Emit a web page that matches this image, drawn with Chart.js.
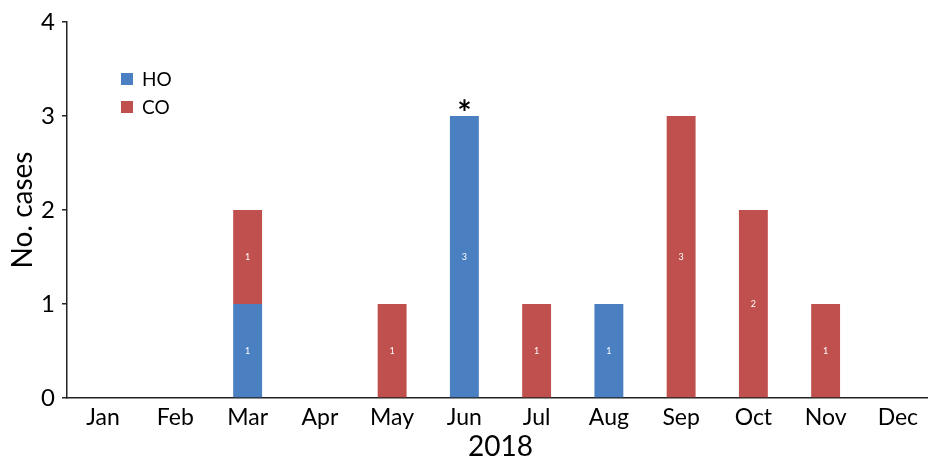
<!DOCTYPE html>
<html>
<head>
<meta charset="utf-8">
<script src="https://cdn.jsdelivr.net/npm/chart.js@4"></script>
<style>
  html, body { margin: 0; padding: 0; background: #fff; overflow: hidden; }
  #wrap { width: 936px; height: 458px; }
</style>
</head>
<body>
<div id="wrap"><canvas id="myChart" width="936" height="458"></canvas></div>
<script>
// chart data
const months = ['Jan', 'Feb', 'Mar', 'Apr', 'May', 'Jun', 'Jul', 'Aug', 'Sep', 'Oct', 'Nov', 'Dec'];
const hoCases = [0, 0, 1, 0, 0, 3, 0, 1, 0, 0, 0, 0];
const coCases = [0, 0, 1, 0, 1, 0, 1, 0, 3, 2, 1, 0];
const notes = ['', '', '', '', '', '*', '', '', '', '', '', ''];
const yTicks = [0, 1, 2, 3, 4];

const FONT = 'Lato, "Open Sans", sans-serif';

// white numbers in the middle of each bar segment
const segmentLabels = {
    id: 'segmentLabels',
    afterDatasetsDraw(chart) {
        const ctx = chart.ctx;
        ctx.save();
        ctx.fillStyle = '#ffffff';
        ctx.font = '9px ' + FONT;
        ctx.textAlign = 'center';
        ctx.textBaseline = 'middle';
        chart.data.datasets.forEach((ds, i) => {
            chart.getDatasetMeta(i).data.forEach((bar, j) => {
                if (!ds.data[j]) return;
                const p = bar.getCenterPoint();
                ctx.fillText(String(ds.data[j]), p.x, p.y);
            });
        });
        ctx.restore();
    }
};

// asterisk above the marked month
const noteMarks = {
    id: 'noteMarks',
    afterDatasetsDraw(chart) {
        const ctx = chart.ctx;
        const x = chart.scales.x, y = chart.scales.y;
        ctx.save();
        ctx.fillStyle = '#000';
        ctx.font = 'bold 34px ' + FONT;
        ctx.textAlign = 'center';
        ctx.textBaseline = 'alphabetic';
        notes.forEach((n, i) => {
            if (!n) return;
            const total = hoCases[i] + coCases[i];
            ctx.fillText(n, x.getPixelForValue(i), y.getPixelForValue(total) + 9);
        });
        ctx.restore();
    }
};

// legend drawn inside the plot, top left
const insideLegend = {
    id: 'insideLegend',
    afterDraw(chart) {
        const ctx = chart.ctx;
        const area = chart.chartArea;
        ctx.save();
        ctx.font = '19px ' + FONT;
        ctx.textBaseline = 'middle';
        ctx.textAlign = 'left';
        chart.data.datasets.forEach((ds, i) => {
            const cy = area.top + 57 + i * 28;
            ctx.fillStyle = ds.backgroundColor;
            ctx.fillRect(area.left + 54, cy - 6, 12, 12);
            ctx.fillStyle = '#000';
            ctx.fillText(ds.label, area.left + 75, cy + 1);
        });
        ctx.restore();
    }
};

const ctx = document.getElementById('myChart').getContext('2d');
const myChart = new Chart(ctx, {
    type: 'bar',
    data: {
        labels: months,
        datasets: [{
            label: 'HO',
            data: hoCases,
            backgroundColor: '#4a7fc1',
            barPercentage: 0.4,
            categoryPercentage: 1.0
        }, {
            label: 'CO',
            data: coCases,
            backgroundColor: '#c0504e',
            barPercentage: 0.4,
            categoryPercentage: 1.0
        }]
    },
    options: {
        responsive: false,
        animation: false,
        layout: { padding: { top: 22, right: 2, left: 0, bottom: 0 } },
        plugins: {
            legend: { display: false },
            tooltip: { enabled: false }
        },
        scales: {
            x: {
                stacked: true,
                grid: { display: false, drawTicks: false },
                border: { display: true, color: '#222', width: 1.5 },
                ticks: { color: '#000', padding: 6, font: { family: FONT, size: 23 } },
                title: {
                    display: true,
                    text: '2018',
                    color: '#000',
                    padding: { top: 0, bottom: 0 },
                    font: { family: FONT, size: 28, lineHeight: 0.8 }
                },
                afterFit(scale) { scale.height = 60; }
            },
            y: {
                stacked: true,
                min: 0,
                max: 4,
                afterBuildTicks(scale) { scale.ticks = yTicks.map(v => ({ value: v })); },
                grid: { drawOnChartArea: false, drawTicks: true, tickLength: 5, color: '#222', lineWidth: 1.5 },
                border: { display: true, color: '#222', width: 1.5 },
                ticks: { color: '#000', padding: 7, font: { family: FONT, size: 24 } },
                title: {
                    display: true,
                    text: 'No. cases',
                    color: '#000',
                    padding: { top: 9, bottom: 0 },
                    font: { family: FONT, size: 28, lineHeight: 1 }
                },
                afterFit(scale) { scale.width = 67; }
            }
        }
    },
    plugins: [segmentLabels, noteMarks, insideLegend]
});
</script>
</body>
</html>
